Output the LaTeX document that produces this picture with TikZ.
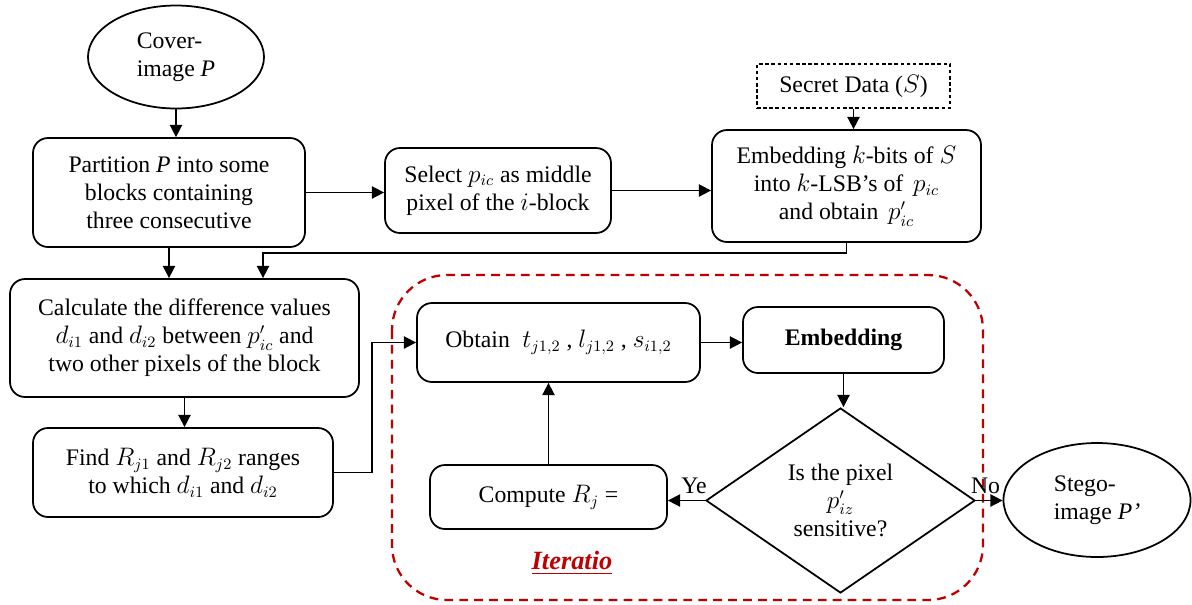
\documentclass[tikz,border=0pt]{standalone}
\usepackage{amsmath}
\usepackage{fontspec}
\setmainfont{Liberation Serif}
\usetikzlibrary{shapes.geometric,arrows.meta}

\definecolor{iterred}{RGB}{192,0,0}

\tikzset{
  procbox/.style={draw, line width=1pt, rounded corners=0.3cm, align=center, inner sep=2pt},
  startend/.style={draw, ellipse, line width=1pt, align=left, inner sep=0pt},
  decision/.style={draw, diamond, line width=1pt, align=center, inner sep=0pt, aspect=1.45},
  arr/.style={-{Triangle[length=7pt,width=7pt]}, line width=0.9pt},
}

\begin{document}
\begin{tikzpicture}[font=\fontsize{13.5}{16}\selectfont]
\useasboundingbox (0,0) rectangle (23.84,-12.08);

% iteration frame
\draw[iterred, line width=1.3pt, dash pattern=on 5pt off 3.5pt, rounded corners=1.1cm] (7.84,-5.5) rectangle (19.66,-12.0);

% top row
\node[startend, minimum width=3.52cm, minimum height=2.06cm] (cover) at (3.52,-1.14) {Cover-\\image \textit{P}};
\node[procbox, minimum width=5.44cm, minimum height=2.18cm] (part) at (3.38,-3.85) {Partition \textit{P} into some\\blocks containing\\three consecutive};
\node[procbox, minimum width=4.52cm, minimum height=1.7cm] (sel) at (9.96,-3.81) {Select $p_{ic}$ as middle\\pixel of the $i$-block};
\node[draw, line width=0.6pt, dash pattern=on 2pt off 1.5pt, minimum width=3.86cm, minimum height=0.88cm] (secret) at (17.07,-1.72) {Secret Data ($S$)};
\node[procbox, minimum width=5.38cm, minimum height=2.24cm] (emb1) at (16.93,-3.72) {Embedding $k$-bits of $S$\\into $k$-LSB’s of \,$p_{ic}$\\and obtain \,$p'_{ic}$};

% left column
\node[procbox, minimum width=6.98cm, minimum height=2.36cm] (calc) at (3.69,-6.76) {Calculate the difference values\\$d_{i1}$ and $d_{i2}$ between $p'_{ic}$ and\\two other pixels of the block};
\node[procbox, minimum width=6cm, minimum height=1.78cm] (find) at (3.66,-9.45) {Find $R_{j1}$ and $R_{j2}$ ranges\\to which $d_{i1}$ and $d_{i2}$};

% loop
\node[procbox, minimum width=5.66cm, minimum height=1.58cm] (obtain) at (11.17,-6.85) {Obtain \;$t_{j1,2}$ , $l_{j1,2}$ , $s_{i1,2}$};
\node[procbox, minimum width=4.02cm, minimum height=1.32cm] (embed) at (16.87,-6.8) {\textbf{Embedding}};
\node[decision, minimum width=5.38cm, minimum height=3.7cm] (dia) at (16.81,-10.01) {Is the pixel\\$p'_{iz}$\\sensitive?};
\node[procbox, minimum width=4.74cm, minimum height=1.28cm] (comp) at (10.97,-9.94) {Compute $R_j$ =};
\node[startend, minimum width=3.74cm, minimum height=2.28cm] (stego) at (21.94,-10.0) {Stego-\\image \textit{P'}};

\node[text=iterred, font=\fontsize{15}{17}\selectfont\bfseries\itshape] (iterlbl) at (11.44,-11.26) {\underline{Iteratio}};

\coordinate (j1) at (5.26,-5.06);
\coordinate (j2) at (7.44,-6.85);

% connectors
\draw[arr] (cover.south) -- (cover.south |- part.north);
\draw[arr] (part.east) -- (part.east -| sel.west);
\draw[arr] (sel.east) -- (sel.east -| emb1.west);
\draw[arr] (secret.south) -- (secret.south |- emb1.north);
\draw[arr] (emb1.south) |- (j1) -- (j1 |- calc.north);
\draw[arr] (part.south) -- (part.south |- calc.north);
\draw[arr] (calc.south) -- (calc.south |- find.north);
\draw[arr] (find.east) -| (j2) -- (obtain.west);
\draw[arr] (obtain.east) -- (obtain.east -| embed.west);
\draw[arr] (embed.south) -- (embed.south |- dia.north);
\draw[arr] (dia.west) -- (dia.west -| comp.east) node[pos=0.3, above] {Ye};
\draw[arr] (comp.north) -- (comp.north |- obtain.south);
\draw[arr] (dia.east) -- (dia.east -| stego.west) node[pos=0.36, above] {No};
\end{tikzpicture}
\end{document}
